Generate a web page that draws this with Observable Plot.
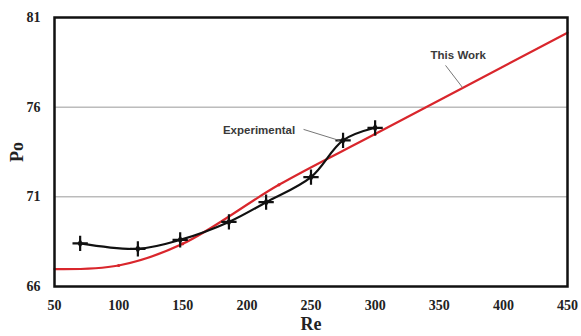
<!DOCTYPE html>
<html>
<head>
<meta charset="utf-8">
<script src="https://cdn.jsdelivr.net/npm/d3@7"></script>
<script src="https://cdn.jsdelivr.net/npm/@observablehq/plot@0.6"></script>
<style>
  html, body { margin: 0; padding: 0; background: #fff; }
</style>
</head>
<body>
<div id="chart"></div>
<script>
// Experimental data (black)
const expRe = [70, 115, 148, 186, 215, 250, 275, 300];
const expPo = [68.4, 68.1, 68.6, 69.6, 70.7, 72.1, 74.15, 74.85];
// This Work (red)
const workRe = [50, 100, 150, 225, 300, 450];
const workPo = [66.97, 67.17, 68.38, 71.67, 74.5, 80.15];
// Axis ticks
const xTicks = [50, 100, 150, 200, 250, 300, 350, 400, 450];
const yTicks = [66, 71, 76, 81];
const gridY = [71, 76];
// Annotations
const annLabels = ["This Work", "Experimental"];
const annTextRe = [364.8, 209.5];
const annTextPo = [78.88, 74.7];
const annFromRe = [354.9, 244.2];
const annFromPo = [78.33, 74.76];
const annToRe = [368.1, 272.2];
const annToPo = [77.1, 74.14];

const exp = expRe.map((x, i) => ({x, y: expPo[i]}));
const work = workRe.map((x, i) => ({x, y: workPo[i]}));
const ann = annLabels.map((t, i) => ({t, x: annTextRe[i], y: annTextPo[i], x1: annFromRe[i], y1: annFromPo[i], x2: annToRe[i], y2: annToPo[i]}));

const serif = "'Liberation Serif', 'Times New Roman', serif";
const sans = "'Liberation Sans', Arial, sans-serif";

const chart = Plot.plot({
  width: 581,
  height: 336,
  marginLeft: 54,
  marginRight: 14,
  marginTop: 17,
  marginBottom: 50,
  style: {background: "#fff"},
  x: {domain: [50, 450]},
  y: {domain: [66, 81]},
  marks: [
    Plot.ruleY(gridY, {stroke: "#9a9a9a", strokeWidth: 1}),
    Plot.axisX({ticks: xTicks, tickSize: 0, tickPadding: 14, fontSize: 14, fontWeight: "bold", fontFamily: serif, fill: "#222",
      label: "Re", labelAnchor: "center", labelArrow: "none", labelOffset: 43}),
    Plot.axisY({ticks: yTicks, tickSize: 0, tickPadding: 14, fontSize: 14, fontWeight: "bold", fontFamily: serif, fill: "#222",
      label: "Po", labelAnchor: "center", labelArrow: "none", labelOffset: 44}),
    Plot.line(work, {x: "x", y: "y", stroke: "#d9262c", strokeWidth: 2.2, curve: "catmull-rom"}),
    Plot.dot(work.slice(1, -1), {x: "x", y: "y", r: 1.6, fill: "#d9262c"}),
    Plot.line(exp, {x: "x", y: "y", stroke: "#111", strokeWidth: 2.2, curve: "catmull-rom"}),
    Plot.dot(exp, {x: "x", y: "y", symbol: "plus", r: 5, stroke: "#111", strokeWidth: 2.2}),
    Plot.dot(exp, {x: "x", y: "y", symbol: "diamond", r: 2.8, fill: "#111"}),
    Plot.link(ann, {x1: "x1", y1: "y1", x2: "x2", y2: "y2", stroke: "#777", strokeWidth: 1}),
    Plot.text(ann, {x: "x", y: "y", text: "t", fontFamily: sans, fontWeight: "bold", fontSize: 11.5, fill: "#3a3a3a"}),
    Plot.frame({stroke: "#111", strokeWidth: 2.5})
  ]
});
// Style axis labels
chart.querySelectorAll("[aria-label='x-axis label'] text, [aria-label='y-axis label'] text").forEach(t => {
  t.setAttribute("font-size", 18);
  t.setAttribute("font-weight", "bold");
  t.setAttribute("font-family", serif);
  t.setAttribute("fill", "#222");
});
document.getElementById("chart").appendChild(chart);
</script>
</body>
</html>
